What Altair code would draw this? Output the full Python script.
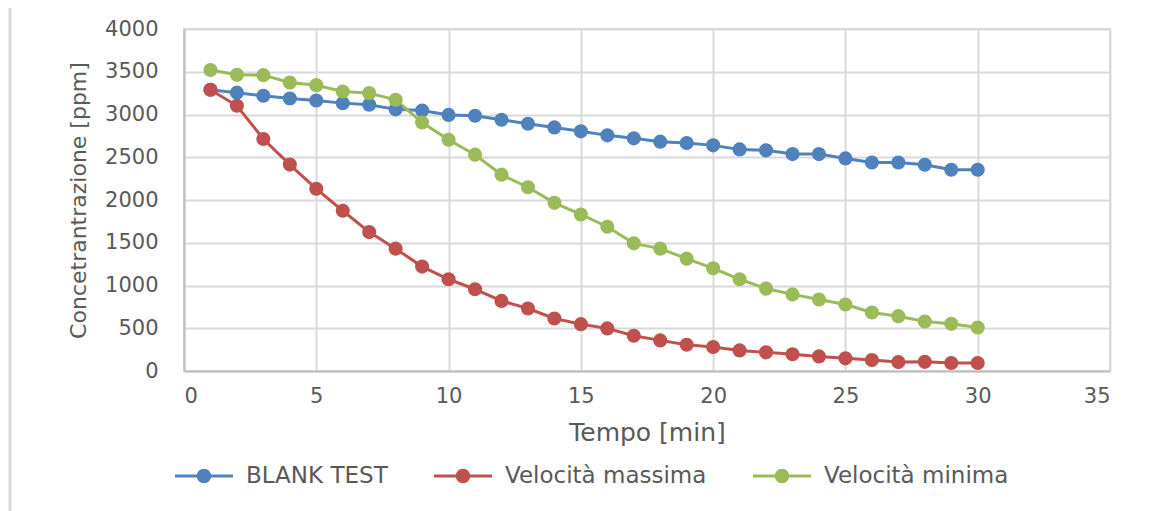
import altair as alt
import pandas as pd

tempo = [1, 2, 3, 4, 5, 6, 7, 8, 9, 10, 11, 12, 13, 14, 15,
         16, 17, 18, 19, 20, 21, 22, 23, 24, 25, 26, 27, 28, 29, 30]
blank_test = [3289, 3255, 3219, 3187, 3164, 3133, 3114, 3060, 3047, 2995,
              2985, 2939, 2892, 2849, 2803, 2756, 2721, 2682, 2667, 2639,
              2592, 2581, 2537, 2537, 2486, 2439, 2439, 2412, 2354, 2354]
vel_massima = [3290, 3102, 2714, 2414, 2131, 1874, 1625, 1431, 1221, 1073,
               956, 820, 731, 614, 548, 498, 412, 358, 307, 280,
               241, 218, 196, 171, 148, 128, 104, 107, 93, 93]
vel_minima = [3520, 3464, 3460, 3374, 3343, 3269, 3250, 3172, 2907, 2705,
              2530, 2296, 2149, 1967, 1831, 1687, 1493, 1431, 1314, 1201,
              1073, 964, 896, 836, 778, 684, 641, 579, 552, 509]

series_names = ["BLANK TEST", "Velocità massima", "Velocità minima"]
series_colors = ["#4F81BD", "#C0504D", "#9BBB59"]
x_ticks = [0, 5, 10, 15, 20, 25, 30, 35]
y_ticks = [0, 500, 1000, 1500, 2000, 2500, 3000, 3500, 4000]

rows = []
for name, vals in zip(series_names, [blank_test, vel_massima, vel_minima]):
    for t, v in zip(tempo, vals):
        rows.append({"Tempo": t, "Conc": v, "Serie": name})
df = pd.DataFrame(rows)

FONT = "DejaVu Sans"
TXT = "#595959"

legend_path = ("M -1 -0.055 L 1 -0.055 L 1 0.055 L -1 0.055 Z "
               "M 0.25 0 A 0.25 0.25 0 1 1 -0.25 0 A 0.25 0.25 0 1 1 0.25 0 Z")

legend = alt.Legend(
    title=None, orient="none", direction="horizontal",
    legendX=-9, legendY=418, padding=0,
    symbolType=legend_path, symbolSize=3364, symbolStrokeWidth=0,
    labelFont=FONT, labelFontSize=23, labelColor=TXT, labelOffset=13,
    columnPadding=46, labelLimit=400,
)

color = alt.Color("Serie:N",
                  scale=alt.Scale(domain=series_names, range=series_colors),
                  sort=series_names, legend=legend)

x = alt.X("Tempo:Q", scale=alt.Scale(domain=[0, 35], nice=False),
          axis=alt.Axis(values=x_ticks, title="Tempo [min]", format="d"))
y = alt.Y("Conc:Q", scale=alt.Scale(domain=[0, 4000], nice=False),
          axis=alt.Axis(values=y_ticks, title="Concetrantrazione [ppm]", format="d"))

base = alt.Chart(df)
points = base.mark_circle(size=200, opacity=1).encode(x=x, y=y, color=color)
lines = base.mark_line(strokeWidth=3).encode(x=x, y=y, color=color)

border = alt.Chart(pd.DataFrame({"a": [0]})).mark_rule(color="#D9D9D9", strokeWidth=3).encode(
    x=alt.value(-174), y=alt.value(-21), y2=alt.value(482)
)

chart = alt.layer(lines, points, border).properties(
    width=926, height=342,
    autosize=alt.AutoSizeParams(type="none"),
    padding={"left": 184, "top": 29, "right": 60, "bottom": 140},
).configure_view(
    stroke="#D9D9D9", strokeWidth=2
).configure_axis(
    grid=True, gridColor="#D9D9D9", gridWidth=2,
    domainColor="#BFBFBF", domainWidth=2,
    ticks=False,
    labelFont=FONT, labelFontSize=21, labelColor=TXT,
    titleFont=FONT, titleColor=TXT, titleFontWeight="normal",
).configure_axisX(
    labelPadding=14, titleFontSize=25, titlePadding=14,
).configure_axisY(
    labelPadding=26, titleFontSize=22, titlePadding=14,
)

chart.save("out.html", embed_options={"renderer": "svg", "actions": False})
